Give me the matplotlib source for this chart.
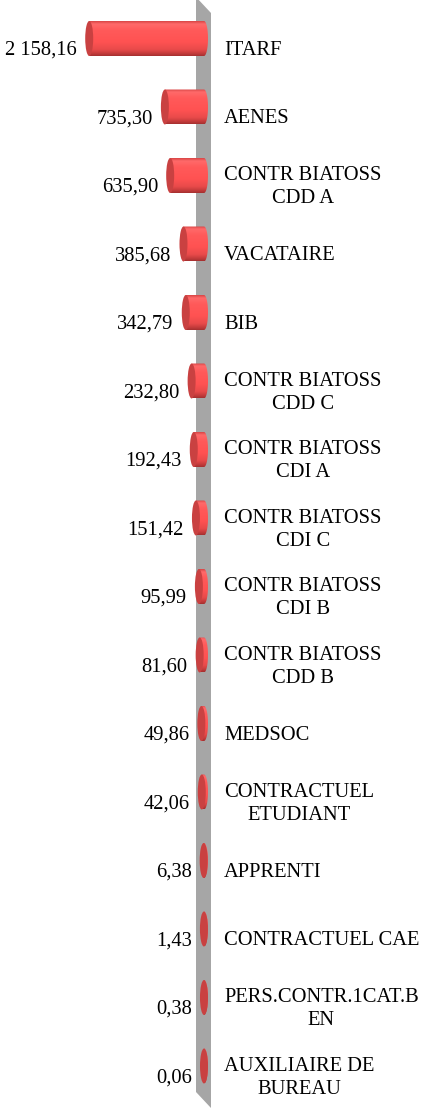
import numpy as np
import matplotlib
matplotlib.use("Agg")
import matplotlib.pyplot as plt
from matplotlib.patches import Ellipse, Polygon, PathPatch
from matplotlib.path import Path
from matplotlib.colors import LinearSegmentedColormap

categories = ["ITARF", "AENES", "CONTR BIATOSS\nCDD A", "VACATAIRE", "BIB",
              "CONTR BIATOSS\nCDD C", "CONTR BIATOSS\nCDI A", "CONTR BIATOSS\nCDI C",
              "CONTR BIATOSS\nCDI B", "CONTR BIATOSS\nCDD B", "MEDSOC",
              "CONTRACTUEL\nETUDIANT", "APPRENTI", "CONTRACTUEL CAE",
              "PERS.CONTR.1CAT.B\nEN", "AUXILIAIRE DE\nBUREAU"]
values = [2158.16, 735.30, 635.90, 385.68, 342.79, 232.80, 192.43, 151.42,
          95.99, 81.60, 49.86, 42.06, 6.38, 1.43, 0.38, 0.06]

W_PX, H_PX = 421, 1114
K = 18.8          # data units per pixel
X0 = 204          # pixel x of the bar base
ROW = 68.5        # pixels per row
TOP = 38.5        # pixel y of first row centre

fig = plt.figure(figsize=(W_PX / 100, H_PX / 100), dpi=100)
ax = fig.add_axes([0, 0, 1, 1])
ax.set_axis_off()

# wall (gray side plane)
wall_px = [(196, -3), (211, 13), (211, 1108), (196, 1092)]
wall = Polygon([(x / W_PX, 1 - y / H_PX) for x, y in wall_px], closed=True,
               transform=ax.transAxes, facecolor="#a6a6a6", edgecolor="none", zorder=1)
ax.add_patch(wall)

grad_cmap = LinearSegmentedColormap.from_list(
    "cyl", [(0.0, "#d94646"), (0.08, "#ff6a6a"), (0.25, "#ff5a5a"), (0.6, "#ff5252"),
            (0.82, "#e84a4a"), (0.94, "#c03a3a"), (1.0, "#a53030")])
grad = np.linspace(0, 1, 100).reshape(-1, 1)

bar_h = 35 / ROW
ew = 8 * K
font = "Liberation Serif"
fs = 14.8

for i, (cat, v) in enumerate(zip(categories, values)):
    c = i
    top, bot = c - bar_h / 2, c + bar_h / 2
    theta = np.linspace(0, np.pi, 40)
    arc = [(-(ew / 2) * np.sin(t), c - (bar_h / 2) * np.cos(t)) for t in theta]
    verts = [(v, top), (0, top)] + arc + [(v, bot), (v, top)]
    codes = [Path.MOVETO] + [Path.LINETO] * (len(verts) - 2) + [Path.CLOSEPOLY]
    body = PathPatch(Path(verts, codes), facecolor="none", edgecolor="none", zorder=2)
    ax.add_patch(body)
    im = ax.imshow(grad, cmap=grad_cmap, extent=[v + ew, -ew, bot, top],
                   aspect="auto", origin="upper", zorder=2, interpolation="bilinear")
    im.set_clip_path(body)
    cap = Ellipse((v, c), ew, bar_h, facecolor="#c94141", edgecolor="none", zorder=3)
    ax.add_patch(cap)
    lab = f"{v:,.2f}".replace(",", " ").replace(".", ",")
    ax.text(v + ew / 2 + 8 * K, c + 0.17, lab, ha="right", va="center",
            fontsize=fs, family=font, color="#000000", zorder=4)
    ax.text(-20 * K, c + 0.17, cat, ha="left", va="center", multialignment="center",
            linespacing=1.3, fontsize=fs, family=font, color="#000000", zorder=4)

ax.set_xlim(X0 * K, -(W_PX - X0) * K)
ax.set_ylim((H_PX - TOP) / ROW, -TOP / ROW)

fig.savefig("out.png", dpi=100, facecolor="white")
